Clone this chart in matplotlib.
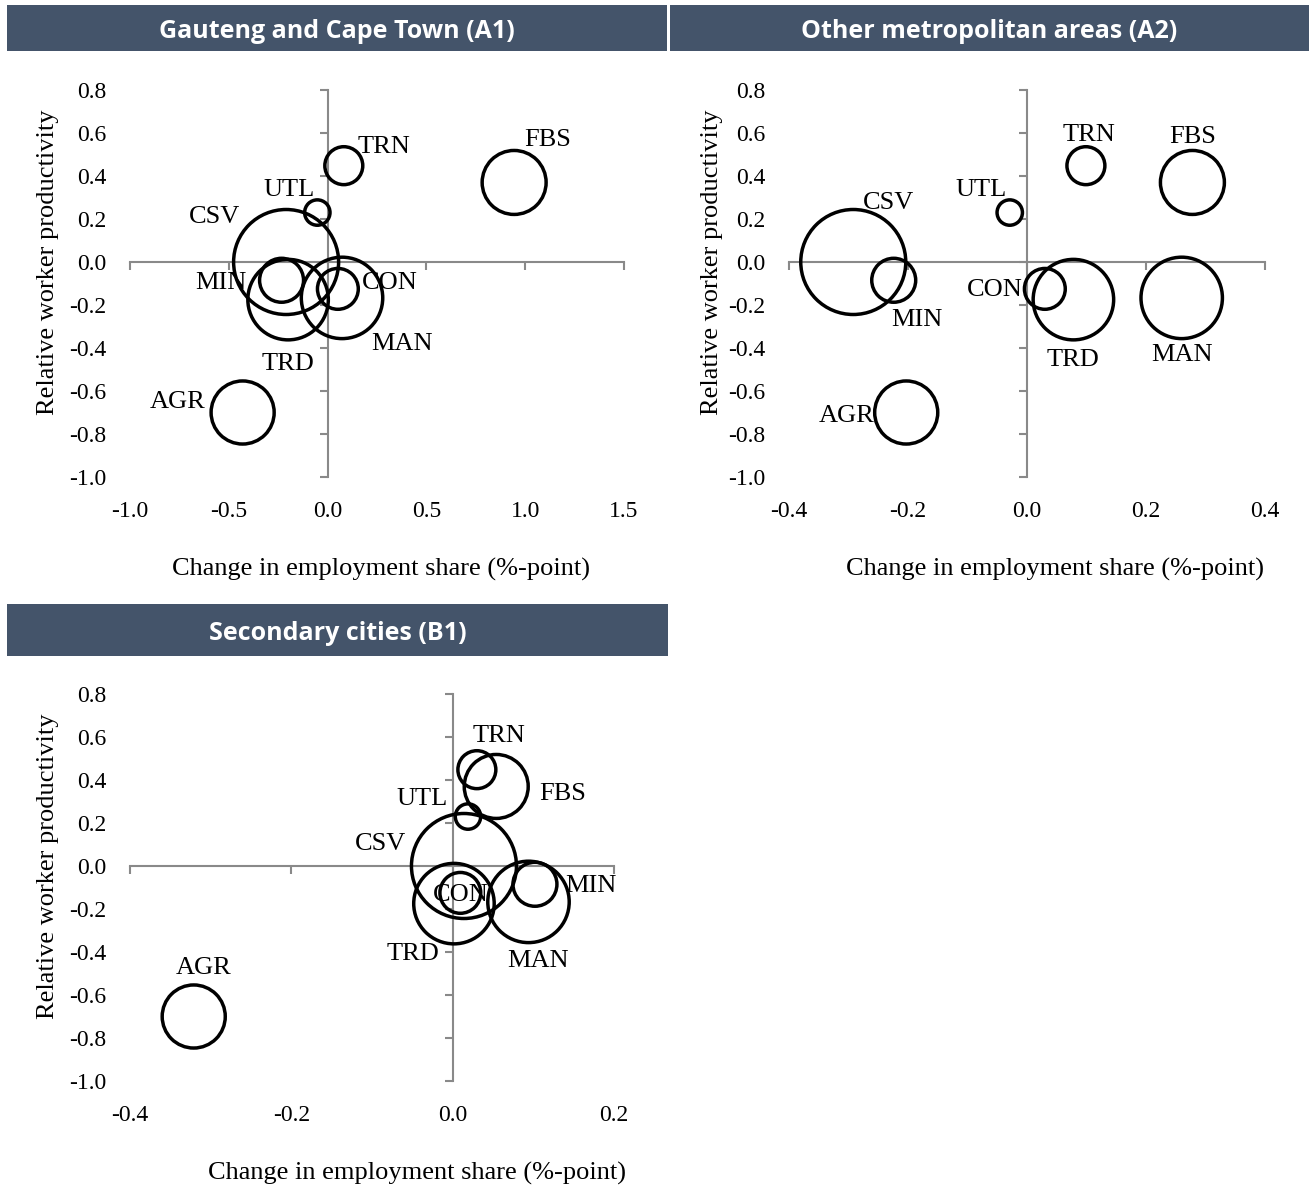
import matplotlib
matplotlib.use("Agg")
import matplotlib.pyplot as plt
from matplotlib.patches import Rectangle

plt.rcParams['font.family'] = ['Liberation Serif', 'DejaVu Serif']
plt.rcParams['axes.unicode_minus'] = False

# data
sectors = ["AGR", "MIN", "MAN", "UTL", "CON", "TRD", "TRN", "FBS", "CSV"]
productivity = [-0.70, -0.085, -0.167, 0.23, -0.125, -0.175, 0.448, 0.37, 0.0]
bubble_size = [10.5, 5.1, 17.5, 1.7, 4.4, 17.1, 3.8, 10.8, 29.1]

change_a1 = [-0.43, -0.233, 0.073, -0.052, 0.052, -0.20, 0.082, 0.944, -0.21]
change_a2 = [-0.203, -0.224, 0.26, -0.029, 0.030, 0.078, 0.099, 0.278, -0.292]
change_b1 = [-0.321, 0.102, 0.094, 0.019, 0.0095, 0.0016, 0.030, 0.054, 0.014]

xticks_a1 = [-1.0, -0.5, 0.0, 0.5, 1.0, 1.5]
xticks_a2 = [-0.4, -0.2, 0.0, 0.2, 0.4]
xticks_b1 = [-0.4, -0.2, 0.0, 0.2]
yticks = [-1.0, -0.8, -0.6, -0.4, -0.2, 0.0, 0.2, 0.4, 0.6, 0.8]

# label offsets in pixels
off_a1 = {"AGR": (-65, 11), "MIN": (-61, -3), "MAN": (60, -46), "UTL": (-28, 23),
          "CON": (52, 6), "TRD": (0, -64), "TRN": (40, 19), "FBS": (34, 42), "CSV": (-72, 45)}
off_a2 = {"AGR": (-60, -4), "MIN": (23, -40), "MAN": (0, -57), "UTL": (-29, 23),
          "CON": (-50, -1), "TRD": (0, -60), "TRN": (3, 31), "FBS": (0, 45), "CSV": (35, 59)}
off_b1 = {"AGR": (10, 49), "MIN": (56, -2), "MAN": (10, -59), "UTL": (-46, 18),
          "CON": (0, -2), "TRD": (-41, -50), "TRN": (22, 34), "FBS": (66, -8), "CSV": (-83, 22)}

W, H = 1309, 1187
fig = plt.figure(figsize=(W / 100, H / 100), dpi=100)

HEAD = "#44546A"
GREY = "#898989"
MAXS = 5715.0
SERIF = 'Liberation Serif'


def header(x0, y0, x1, y1, title):
    fig.add_artist(Rectangle((x0 / W, 1 - y1 / H), (x1 - x0) / W, (y1 - y0) / H,
                             transform=fig.transFigure, facecolor=HEAD, edgecolor='none'))
    fig.text((x0 + x1) / 2 / W, 1 - ((y0 + y1) / 2 + 3) / H, title, color='white',
             fontsize=18, fontweight='bold', family='Open Sans', ha='center', va='center')


def panel(px, xs, xticks, offs, xlab_x, ylab_x):
    l, r, t, b = px
    ax = fig.add_axes([l / W, 1 - b / H, (r - l) / W, (b - t) / H])
    ax.set_xlim(xticks[0], xticks[-1])
    ax.set_ylim(-1.0, 0.8)
    for s in ['top', 'right']:
        ax.spines[s].set_visible(False)
    for s in ['left', 'bottom']:
        ax.spines[s].set_position(('data', 0))
        ax.spines[s].set_color(GREY)
        ax.spines[s].set_linewidth(1.5)
    ax.set_xticks(xticks)
    ax.set_yticks(yticks)
    ax.tick_params(direction='out', length=6, width=1.5, color=GREY,
                   labelbottom=False, labelleft=False)

    # tick labels sit at the low edge of the plot, like Excel
    sx = ax.secondary_xaxis('bottom')
    sx.spines['bottom'].set_visible(False)
    sx.set_xticks(xticks, [f"{v:.1f}" for v in xticks])
    sx.tick_params(length=0, pad=17, labelsize=17, labelfontfamily=SERIF)
    sy = ax.secondary_yaxis('left')
    sy.spines['left'].set_visible(False)
    sy.set_yticks(yticks, [f"{v:.1f}" for v in yticks])
    sy.tick_params(length=0, pad=17, labelsize=17, labelfontfamily=SERIF)

    sizes = [v / max(bubble_size) * MAXS for v in bubble_size]
    ax.scatter(xs, productivity, s=sizes, facecolors='none', edgecolors='black',
               linewidths=2.5, zorder=3, clip_on=False)
    for name, x, y in zip(sectors, xs, productivity):
        ax.annotate(name, (x, y), xytext=offs[name], textcoords='offset pixels',
                    ha='center', va='center', fontsize=19, family=SERIF, zorder=4)

    ax.set_ylabel("Relative worker productivity", fontsize=19, family=SERIF, va='center')
    ax.yaxis.set_label_coords(ylab_x, 0.555)
    ax.set_xlabel("Change in employment share (%-point)", fontsize=19, family=SERIF,
                  va='center')
    ax.xaxis.set_label_coords(xlab_x, -0.238)
    return ax


header(7, 5, 667, 51, "Gauteng and Cape Town (A1)")
header(670, 5, 1309, 51, "Other metropolitan areas (A2)")
header(7, 604, 668, 656, "Secondary cities (B1)")

panel((130, 624, 90, 477), change_a1, xticks_a1, off_a1, 0.508, -0.166)
panel((789, 1265, 90, 477), change_a2, xticks_a2, off_a2, 0.559, -0.162)
panel((130, 614, 694, 1081), change_b1, xticks_b1, off_b1, 0.593, -0.169)

fig.savefig("out.png", dpi=100)
